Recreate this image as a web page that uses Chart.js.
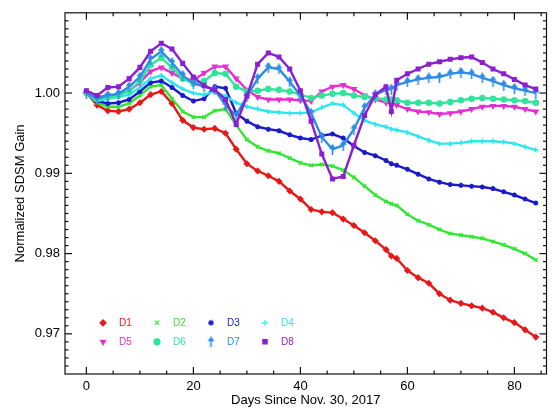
<!DOCTYPE html>
<html>
<head>
<meta charset="utf-8">
<script src="https://cdn.jsdelivr.net/npm/chart.js@4.4.1/dist/chart.umd.min.js"></script>
<style>
  body { margin: 0; background: #fff; }
  canvas { display: block; }
</style>
</head>
<body>
<canvas id="grafica" width="552" height="409"></canvas>
<script>
// dias desde el 30 de noviembre de 2017
const dias = [0, 2, 4, 6, 8, 10, 12, 14, 16, 18, 20, 22, 24, 26, 28, 30, 32, 34, 36, 38, 40, 42, 44, 46, 48, 50, 52, 54, 56, 57, 58, 60, 62, 64, 66, 68, 70, 72, 74, 76, 78, 80, 82, 84];

const d1 = [1.000, 0.9985, 0.9978, 0.9977, 0.998, 0.9988, 0.9998, 1.0002, 0.9987, 0.9966, 0.9957, 0.9955, 0.9956, 0.995, 0.993, 0.9912, 0.9903, 0.9897, 0.989, 0.9878, 0.9868, 0.9855, 0.9852, 0.9851, 0.9843, 0.9835, 0.9826, 0.9816, 0.9805, 0.9797, 0.9794, 0.9779, 0.977, 0.9763, 0.975, 0.9742, 0.9738, 0.9735, 0.9732, 0.9727, 0.972, 0.9714, 0.9705, 0.9696];
const d2 = [1.000, 0.9988, 0.9983, 0.9983, 0.9987, 0.9997, 1.0008, 1.001, 0.9993, 0.9977, 0.997, 0.997, 0.9978, 0.998, 0.996, 0.9942, 0.9933, 0.9928, 0.9925, 0.9919, 0.9913, 0.991, 0.9911, 0.9909, 0.9904, 0.9895, 0.9884, 0.9873, 0.9865, 0.9862, 0.986, 0.9849, 0.9841, 0.9836, 0.983, 0.9825, 0.9823, 0.9821, 0.9819, 0.9815, 0.9811, 0.9806, 0.98, 0.9792];
const d3 = [1.000, 0.999, 0.9987, 0.9988, 0.9992, 1.0002, 1.0013, 1.0015, 1.0007, 0.9997, 0.999, 0.9993, 1.0008, 1.0006, 0.9975, 0.9965, 0.9958, 0.9955, 0.9953, 0.9948, 0.9944, 0.9942, 0.9947, 0.9949, 0.9944, 0.9934, 0.9926, 0.9922, 0.9916, 0.9912, 0.991, 0.9905, 0.9899, 0.9893, 0.9889, 0.9886, 0.9885, 0.9884, 0.9883, 0.9881, 0.9877, 0.9873, 0.9868, 0.9863];
const d4 = [1.000, 0.999, 0.9993, 0.9995, 0.9998, 1.0007, 1.0018, 1.0022, 1.0013, 1.0005, 1.0, 0.9998, 1.0002, 0.9996, 0.9988, 0.9983, 0.998, 0.9977, 0.9976, 0.9975, 0.9975, 0.9976, 0.9982, 0.9987, 0.9985, 0.9975, 0.9966, 0.9961, 0.9958, 0.9955, 0.9954, 0.9951, 0.9946, 0.9941, 0.9937, 0.9937, 0.9938, 0.994, 0.994, 0.994, 0.9939, 0.9937, 0.9933, 0.9929];
const d5 = [1.000, 0.9995, 0.9997, 0.9998, 1.0003, 1.0013, 1.0027, 1.0032, 1.0025, 1.0018, 1.0016, 1.0025, 1.0033, 1.0033, 1.0018, 1.0004, 0.9995, 0.9992, 0.9992, 0.9992, 0.9991, 0.999, 1.0002, 1.0008, 1.001, 1.0005, 0.9997, 0.9992, 0.9988, 0.9987, 0.9985, 0.998, 0.9977, 0.9976, 0.9974, 0.9975, 0.9977, 0.998, 0.9983, 0.9984, 0.9984, 0.9983, 0.998, 0.9977];
const d6 = [1.000, 0.9993, 0.9995, 0.9997, 1.0003, 1.0015, 1.0035, 1.0044, 1.0032, 1.0018, 1.0012, 1.0015, 1.0025, 1.0024, 1.0008, 1.0002, 1.0003, 1.0005, 1.0004, 1.0002, 0.9998, 0.9994, 0.9997, 0.9999, 1.0, 0.9997, 0.9995, 0.9994, 0.9992, 0.9992, 0.9991, 0.9988, 0.9988, 0.9988, 0.9987, 0.9989, 0.9991, 0.9993, 0.9994, 0.9993, 0.9992, 0.9991, 0.999, 0.9988];
const d7 = [1.000, 0.9993, 0.9997, 0.9999, 1.0008, 1.002, 1.0042, 1.0052, 1.0038, 1.0022, 1.0012, 1.0008, 1.0004, 0.9985, 0.9972, 0.9996, 1.0018, 1.0032, 1.003, 1.0014, 0.9997, 0.9975, 0.9945, 0.993, 0.9935, 0.9955, 0.9982, 0.9998, 1.0004, 1.0005, 1.001, 1.0014, 1.0017, 1.0019, 1.002, 1.0024, 1.0026, 1.0024, 1.0019, 1.0015, 1.001, 1.0006, 1.0003, 1.0];
const d8 = [1.0003, 0.9997, 1.0007, 1.0008, 1.0018, 1.0032, 1.0052, 1.0062, 1.0055, 1.0037, 1.002, 1.0009, 1.0004, 0.9992, 0.9961, 0.9996, 1.0036, 1.005, 1.0045, 1.003, 1.0003, 0.9965, 0.9924, 0.9893, 0.9896, 0.9935, 0.9972, 0.9998, 1.0008, 0.9977, 1.0016, 1.0024, 1.003, 1.0036, 1.0039, 1.0042, 1.0044, 1.0045, 1.0038, 1.003, 1.0024, 1.0017, 1.001, 1.0005];

const nombres = ["D1", "D2", "D3", "D4", "D5", "D6", "D7", "D8"];
const ticksX = [0, 20, 40, 60, 80];
const ticksY = [0.97, 0.98, 0.99, 1.0];

const colores = ["#e61919", "#33e633", "#1a1acc", "#2ee6f0", "#e62ed2", "#2ee69b", "#2e8ce6", "#8c1ed2"];

// marcador de flecha para D7
const flecha = (() => {
  const c = document.createElement("canvas");
  c.width = 9;
  c.height = 11;
  const ctx = c.getContext("2d");
  ctx.strokeStyle = colores[6];
  ctx.fillStyle = colores[6];
  ctx.lineWidth = 1.6;
  ctx.beginPath();
  ctx.moveTo(4.5, 11);
  ctx.lineTo(4.5, 3);
  ctx.stroke();
  ctx.beginPath();
  ctx.moveTo(4.5, 0);
  ctx.lineTo(8, 5);
  ctx.lineTo(1, 5);
  ctx.closePath();
  ctx.fill();
  return c;
})();

const estilos = ["rectRot", "crossRot", "star", "cross", "triangle", "circle", flecha, "rect"];
const series = [d1, d2, d3, d4, d5, d6, d7, d8];

const datasets = series.map((valores, i) => ({
  label: nombres[i],
  data: valores.map((v, j) => ({ x: dias[j], y: v })),
  borderColor: colores[i],
  backgroundColor: colores[i],
  borderWidth: 2.4,
  pointStyle: estilos[i],
  pointRotation: i === 4 ? 180 : 0,
  pointRadius: 2.5,
  pointBorderWidth: 1.5,
  order: 8 - i,
}));

// marco con rayas hacia dentro y leyenda en dos filas
const marcoEjes = {
  id: "marcoEjes",
  afterDatasetsDraw(chart) {
    const { ctx, chartArea: a, scales } = chart;
    const x = scales.x;
    const y = scales.y;
    ctx.save();
    ctx.strokeStyle = "#111";
    ctx.lineWidth = 1.2;
    ctx.strokeRect(a.left, a.top, a.right - a.left, a.bottom - a.top);
    const raya = (x1, y1, x2, y2) => {
      ctx.beginPath();
      ctx.moveTo(x1, y1);
      ctx.lineTo(x2, y2);
      ctx.stroke();
    };
    for (let d = 0; d <= 85; d += 5) {
      const px = x.getPixelForValue(d);
      const largo = d % 20 === 0 ? 7 : 3.5;
      raya(px, a.bottom, px, a.bottom - largo);
      raya(px, a.top, px, a.top + largo);
    }
    for (let k = 966; k <= 1009; k++) {
      const py = y.getPixelForValue(k / 1000);
      const largo = k % 10 === 0 ? 7 : 3.5;
      raya(a.left, py, a.left + largo, py);
      raya(a.right, py, a.right - largo, py);
    }

    ctx.font = '10px "Liberation Sans Narrow", "Liberation Sans", sans-serif';
    ctx.textBaseline = "middle";
    for (let i = 0; i < nombres.length; i++) {
      const col = i % 4;
      const fila = Math.floor(i / 4);
      const mx = a.left + 38 + col * 54;
      const my = a.top + 310 + fila * 19;
      ctx.strokeStyle = colores[i];
      ctx.fillStyle = colores[i];
      Chart.helpers.drawPoint(ctx, {
        pointStyle: estilos[i],
        rotation: i === 4 ? 180 : 0,
        radius: 3,
        borderWidth: 1.4,
      }, mx, my);
      ctx.fillStyle = colores[i];
      ctx.fillText(nombres[i], mx + 16, my);
    }
    ctx.restore();
  },
};

const fuente = { family: '"Liberation Sans", Arial, sans-serif', size: 13 };

new Chart("grafica", {
  type: "line",
  data: { datasets },
  options: {
    responsive: false,
    animation: false,
    devicePixelRatio: 1,
    layout: { padding: { left: 0, top: 9, right: 3, bottom: 0 } },
    plugins: {
      legend: { display: false },
      tooltip: { enabled: false },
    },
    scales: {
      x: {
        type: "linear",
        min: -4,
        max: 86,
        grid: { display: false, drawTicks: false },
        border: { display: false },
        afterBuildTicks: (s) => { s.ticks = ticksX.map((v) => ({ value: v })); },
        afterFit: (s) => { s.height = 35; },
        ticks: { color: "#000", font: fuente, padding: 5, maxRotation: 0 },
        title: { display: true, text: "Days Since Nov. 30, 2017", color: "#000", font: fuente, padding: { top: 0, bottom: 1 } },
      },
      y: {
        min: 0.965,
        max: 1.01,
        grid: { display: false, drawTicks: false },
        border: { display: false },
        afterBuildTicks: (s) => { s.ticks = ticksY.map((v) => ({ value: v })); },
        afterFit: (s) => { s.width = 65; },
        ticks: { color: "#000", font: fuente, padding: 5, callback: (v) => v.toFixed(2) },
        title: { display: true, text: "Normalized SDSM Gain", color: "#000", font: fuente, padding: { top: 13, bottom: 0 } },
      },
    },
  },
  plugins: [marcoEjes],
});
</script>
</body>
</html>
